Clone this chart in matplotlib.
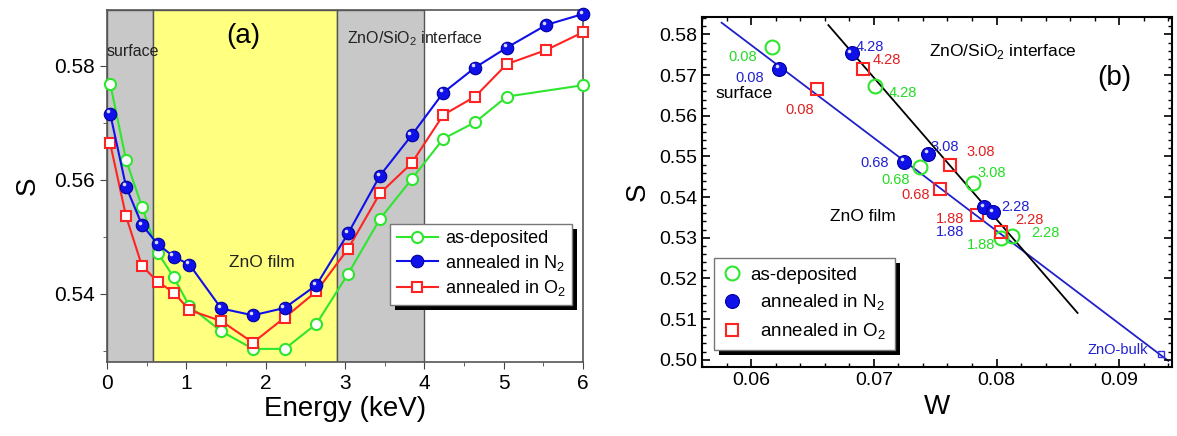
import numpy as np
import matplotlib.pyplot as plt
from matplotlib.ticker import MultipleLocator
from matplotlib.patches import Rectangle
from matplotlib.transforms import ScaledTranslation

plt.rcParams['font.family'] = ['Liberation Sans', 'DejaVu Sans']
plt.rcParams['mathtext.fontset'] = 'custom'
plt.rcParams['mathtext.rm'] = 'Liberation Sans'

# ---- panel (a): S vs positron energy ----
energy = [0.04, 0.24, 0.44, 0.64, 0.84, 1.04, 1.44, 1.84, 2.24, 2.64,
          3.04, 3.44, 3.84, 4.24, 4.64, 5.04, 5.54, 6.0]
energy_dep = [0.04, 0.24, 0.44, 0.64, 0.84, 1.04, 1.44, 1.84, 2.24, 2.64,
              3.04, 3.44, 3.84, 4.24, 4.64, 5.04, 6.0]
S_dep = [0.5769, 0.5635, 0.5553, 0.5472, 0.5429, 0.5378, 0.5334, 0.5303, 0.5303,
         0.5347, 0.5435, 0.5531, 0.5601, 0.5672, 0.5701, 0.5746, 0.5766]
S_n2 = [0.5716, 0.5588, 0.5521, 0.5487, 0.5465, 0.5451, 0.5374, 0.5362, 0.5375,
        0.5415, 0.5506, 0.5607, 0.5678, 0.5753, 0.5797, 0.5832, 0.5872, 0.5891]
S_o2 = [0.5664, 0.5536, 0.5449, 0.5421, 0.5402, 0.5371, 0.5352, 0.5314, 0.5358,
        0.5404, 0.5479, 0.5576, 0.5629, 0.5714, 0.5746, 0.5803, 0.5828, 0.5859]

# depth regions [start, end] in keV
surface_region = [0.0, 0.58]
film_region = [0.58, 2.9]
interface_region = [2.9, 4.0]

# ---- panel (b): S-W plot ----
E_labels = ["0.08", "4.28", "0.68", "3.08", "1.88", "2.28"]
W_dep = [0.06171, 0.07009, 0.07374, 0.0781, 0.0804, 0.0813]
Sw_dep = [0.5770, 0.5673, 0.5474, 0.5435, 0.5300, 0.5304]
W_n2 = [0.0623, 0.0682, 0.0725, 0.0744, 0.0790, 0.0797]
Sw_n2 = [0.5716, 0.5755, 0.5487, 0.5507, 0.5376, 0.5363]
W_o2 = [0.0654, 0.0691, 0.0754, 0.0762, 0.0784, 0.0804]
Sw_o2 = [0.5665, 0.5716, 0.5421, 0.5480, 0.5357, 0.5314]

# label anchor positions (W, S)
lab_dep = [(0.0593, 0.5745), (0.0724, 0.5657), (0.0718, 0.5443),
           (0.0796, 0.5460), (0.0787, 0.5283), (0.0840, 0.5312)]
lab_n2 = [(0.0599, 0.5694), (0.0697, 0.5770), (0.0701, 0.5483),
          (0.0758, 0.5524), (0.0762, 0.5313), (0.0815, 0.5376)]
lab_o2 = [(0.0640, 0.5615), (0.0711, 0.5737), (0.0734, 0.5406),
          (0.0787, 0.5510), (0.0762, 0.5347), (0.0827, 0.5343)]

bulk_W, bulk_S = 0.09338, 0.5015
blue_fit_W = [0.0576, 0.0940]
blue_fit_S = [0.5829, 0.4997]
black_fit_W = [0.0663, 0.0866]
black_fit_S = [0.5823, 0.5115]

GREEN = '#2ee62e'
BLUE = '#1010e8'
RED = '#ff2424'


def hard_shadow(fig, ax, leg, dx=5, dy=5):
    # solid black drop shadow like the Origin legend
    fig.canvas.draw()
    bb = leg.get_window_extent()
    ax.add_patch(Rectangle((bb.x0 + dx, bb.y0 - dy), bb.width, bb.height,
                           transform=None, facecolor='black', edgecolor='none',
                           clip_on=False, zorder=4.9))


def highlight(ax, x, y, fig):
    shift = ScaledTranslation(-1.6 / 72, 1.6 / 72, fig.dpi_scale_trans)
    ax.plot(x, y, 'o', ls='none', ms=2.6, mfc='#d8d8ff', mec='none',
            transform=ax.transData + shift, zorder=4.5, clip_on=False)


fig = plt.figure(figsize=(11.77, 4.36), dpi=100)
ax1 = fig.add_axes([0.0909, 0.1697, 0.4044, 0.8073])
ax2 = fig.add_axes([0.5964, 0.1583, 0.3994, 0.8027])

# ---------- (a) ----------
ax1.axvspan(*surface_region, facecolor='#c8c8c8', edgecolor='#555555', lw=1, zorder=0)
ax1.axvspan(*film_region, facecolor='#ffff80', edgecolor='#555555', lw=1, zorder=0)
ax1.axvspan(*interface_region, facecolor='#c8c8c8', edgecolor='#555555', lw=1, zorder=0)

ax1.plot(energy_dep, S_dep, '-o', color=GREEN, mfc='white', mec=GREEN, ms=8, mew=1.5,
         lw=1.5, label='as-deposited', clip_on=False, zorder=3)
ax1.plot(energy, S_n2, '-o', color=BLUE, mfc=BLUE, mec='#0000a0', ms=9, mew=0.8,
         lw=1.5, label='annealed in N$_2$', clip_on=False, zorder=4)
highlight(ax1, energy, S_n2, fig)
ax1.plot(energy, S_o2, '-s', color=RED, mfc='white', mec=RED, ms=7.5, mew=1.5,
         lw=1.5, label='annealed in O$_2$', clip_on=False, zorder=3)

ax1.set_xlim(0, 6)
ax1.set_ylim(0.528, 0.5898)
ax1.xaxis.set_major_locator(MultipleLocator(1))
ax1.xaxis.set_minor_locator(MultipleLocator(0.5))
ax1.yaxis.set_major_locator(MultipleLocator(0.02))
ax1.yaxis.set_minor_locator(MultipleLocator(0.01))
ax1.tick_params(which='both', direction='out', labelsize=15, color='#444444')
ax1.tick_params(which='major', length=5)
ax1.tick_params(which='minor', length=3)
for sp in ax1.spines.values():
    sp.set_color('#555555')
    sp.set_linewidth(1.2)
ax1.set_xlabel('Energy (keV)', fontsize=20, labelpad=2)
ax1.set_ylabel('S', fontsize=20, labelpad=10)

ax1.text(1.72, 0.5852, '(a)', fontsize=20, ha='center', va='center')
ax1.text(0.0, 0.5825, 'surface', fontsize=11.5, ha='left', va='center', color='#222222')
ax1.text(3.03, 0.5847, 'ZnO/SiO$_2$ interface', fontsize=11.5, ha='left', va='center',
         color='#222222')
ax1.text(1.95, 0.5455, 'ZnO film', fontsize=12.5, ha='center', va='center', color='#222222')

leg1 = ax1.legend(loc='upper left', bbox_to_anchor=(0.595, 0.392), fontsize=13,
                  frameon=True, fancybox=False, shadow=False,
                  handlelength=2.3, handletextpad=0.4, borderpad=0.35, labelspacing=0.3,
                  borderaxespad=0)
leg1.get_frame().set_edgecolor('#777777')
leg1.get_frame().set_alpha(1)

# ---------- (b) ----------
ax2.plot(blue_fit_W, blue_fit_S, color='#2020c8', lw=1.3, zorder=1)
ax2.plot(black_fit_W, black_fit_S, color='black', lw=1.3, zorder=1)

ax2.plot(W_dep, Sw_dep, 'o', ls='none', mfc='none', mec=GREEN, ms=10, mew=1.5,
         label='as-deposited', zorder=3)
ax2.plot(W_n2, Sw_n2, 'o', ls='none', mfc=BLUE, mec='#0000a0', ms=10, mew=0.8,
         label='  annealed in N$_2$', zorder=4)
highlight(ax2, W_n2, Sw_n2, fig)
ax2.plot(W_o2, Sw_o2, 's', ls='none', mfc='none', mec=RED, ms=9, mew=1.5,
         label='  annealed in O$_2$', zorder=3)
ax2.plot([bulk_W], [bulk_S], 's', mfc='none', mec='#3030e0', ms=5, mew=1, zorder=3)

for txt, (x, y) in zip(E_labels, lab_dep):
    ax2.text(x, y, txt, color='#22dd22', fontsize=10.5, ha='center', va='center')
for txt, (x, y) in zip(E_labels, lab_n2):
    ax2.text(x, y, txt, color='#2020d0', fontsize=10.5, ha='center', va='center')
for txt, (x, y) in zip(E_labels, lab_o2):
    ax2.text(x, y, txt, color='#e02020', fontsize=10.5, ha='center', va='center')

ax2.text(0.0805, 0.5757, 'ZnO/SiO$_2$ interface', fontsize=12.5, ha='center', va='center')
ax2.text(0.0896, 0.5694, '(b)', fontsize=20, ha='center', va='center')
ax2.text(0.0594, 0.5655, 'surface', fontsize=12.5, ha='center', va='center')
ax2.text(0.0691, 0.5353, 'ZnO film', fontsize=12.5, ha='center', va='center')
ax2.text(0.0899, 0.5023, 'ZnO-bulk', fontsize=10.5, ha='center', va='center', color='#2020d0')

ax2.set_xlim(0.056, 0.0943)
ax2.set_ylim(0.4982, 0.5843)
ax2.xaxis.set_major_locator(MultipleLocator(0.01))
ax2.xaxis.set_minor_locator(MultipleLocator(0.002))
ax2.yaxis.set_major_locator(MultipleLocator(0.01))
ax2.yaxis.set_minor_locator(MultipleLocator(0.002))
ax2.tick_params(which='both', direction='in', top=True, right=True, labelsize=14)
ax2.tick_params(which='major', length=6, width=1.2)
ax2.tick_params(which='minor', length=3, width=1)
for sp in ax2.spines.values():
    sp.set_linewidth(1.5)
ax2.set_xlabel('W', fontsize=20, labelpad=4)
ax2.set_ylabel('S', fontsize=20, labelpad=6)

leg2 = ax2.legend(loc='upper left', bbox_to_anchor=(0.025, 0.31), fontsize=13.5,
                  frameon=True, fancybox=False, shadow=False,
                  handlelength=1.0, handletextpad=0.5, borderpad=0.45, labelspacing=0.45,
                  borderaxespad=0)
leg2.get_frame().set_edgecolor('#777777')
leg2.get_frame().set_alpha(1)

hard_shadow(fig, ax1, leg1)
hard_shadow(fig, ax2, leg2)

fig.savefig('out.png', dpi=100)
